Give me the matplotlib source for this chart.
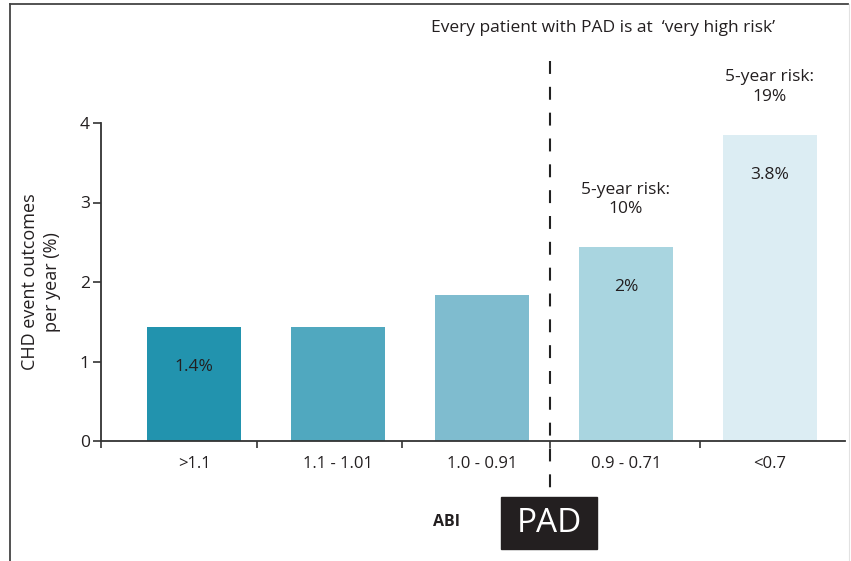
import numpy as np
import matplotlib
matplotlib.use("Agg")
import matplotlib.pyplot as plt
from matplotlib.lines import Line2D
from matplotlib.patches import Rectangle
import matplotlib.transforms as mtransforms

plt.rcParams["font.family"] = ["Open Sans", "DejaVu Sans"]

# Data
categories = [">1.1", "1.1 - 1.01", "1.0 - 0.91", "0.9 - 0.71", "<0.7"]
event_rate = [1.43, 1.43, 1.84, 2.44, 3.85]
bar_labels = ["1.4%", "", "", "2%", "3.8%"]
risk_labels = ["", "", "", "5-year risk:\n10%", "5-year risk:\n19%"]
bar_colors = ["#2293ae", "#50a8bf", "#7fbccf", "#a9d5e0", "#dcedf3"]

text_col = "#231f20"
W, H = 851, 561

fig = plt.figure(figsize=(W / 100, H / 100), dpi=100)
ax = fig.add_axes([101 / W, (H - 441) / H, (845 - 101) / W, 318 / H])

x = np.arange(len(categories))
ax.bar(x, event_rate, width=0.65, color=bar_colors, zorder=2)

ax.set_xlim(-0.648, 4.523)
ax.set_ylim(0, 4)

# bar value labels and 5-year risk notes
for xi, val, lab, risk in zip(x, event_rate, bar_labels, risk_labels):
    if lab:
        ax.text(xi, val - 0.5, lab, ha="center", va="center", fontsize=12.5, color=text_col)
    if risk:
        ax.text(xi, val + 0.6, risk, ha="center", va="center", fontsize=12.5,
                color=text_col, linespacing=1.3, clip_on=False)

# axes styling
for s in ["top", "right"]:
    ax.spines[s].set_visible(False)
for s in ["left", "bottom"]:
    ax.spines[s].set_color("#333333")
    ax.spines[s].set_linewidth(1.3)

ax.set_yticks([0, 1, 2, 3, 4])
ax.tick_params(axis="y", length=6, width=1.2, color="#333333", labelsize=12.5,
               labelcolor=text_col, pad=2)
ax.set_xticks(x)
ax.set_xticklabels(categories)
ax.tick_params(axis="x", which="major", length=0, labelsize=12, labelcolor=text_col, pad=11)
ax.set_xticks([-0.648, 0.436, 1.444, 2.472, 3.514], minor=True)
ax.tick_params(axis="x", which="minor", length=5, width=1.2, color="#333333")

ax.set_ylabel("CHD event outcomes\nper year (%)", fontsize=13, color=text_col,
              linespacing=1.25)
ax.yaxis.set_label_coords(-0.054, 0.5)

# dashed PAD threshold line
trans = mtransforms.blended_transform_factory(ax.transData, ax.transAxes)
ax.plot([2.472, 2.472], [1.195, -0.168], transform=trans, color="#222222", lw=1.5,
        dashes=(6.2, 6.2), clip_on=False, zorder=3)

# PAD box and ABI label
fig.patches.append(Rectangle((501 / W, (H - 549) / H), 96 / W, 52 / H,
                             transform=fig.transFigure, color="#231f20"))
fig.text(549 / W, (H - 524) / H, "PAD", ha="center", va="center", fontsize=24,
         color="white")
fig.text(447 / W, (H - 522) / H, "ABI", ha="center", va="center", fontsize=11.5,
         fontweight="bold", color=text_col)

fig.text(603 / W, (H - 28) / H, "Every patient with PAD is at  \u2018very high risk\u2019",
         ha="center", va="center", fontsize=12.5, color=text_col)

# outer frame
fig.add_artist(Line2D([10 / W, 10 / W], [0, (H - 4) / H], color="#444444", lw=1.3))
fig.add_artist(Line2D([10 / W, 848 / W], [(H - 4) / H, (H - 4) / H], color="#444444", lw=1.3))
fig.add_artist(Line2D([849 / W, 849 / W], [0, (H - 4) / H], color="#e2e2e2", lw=0.8))

fig.savefig("out.png", dpi=100)
